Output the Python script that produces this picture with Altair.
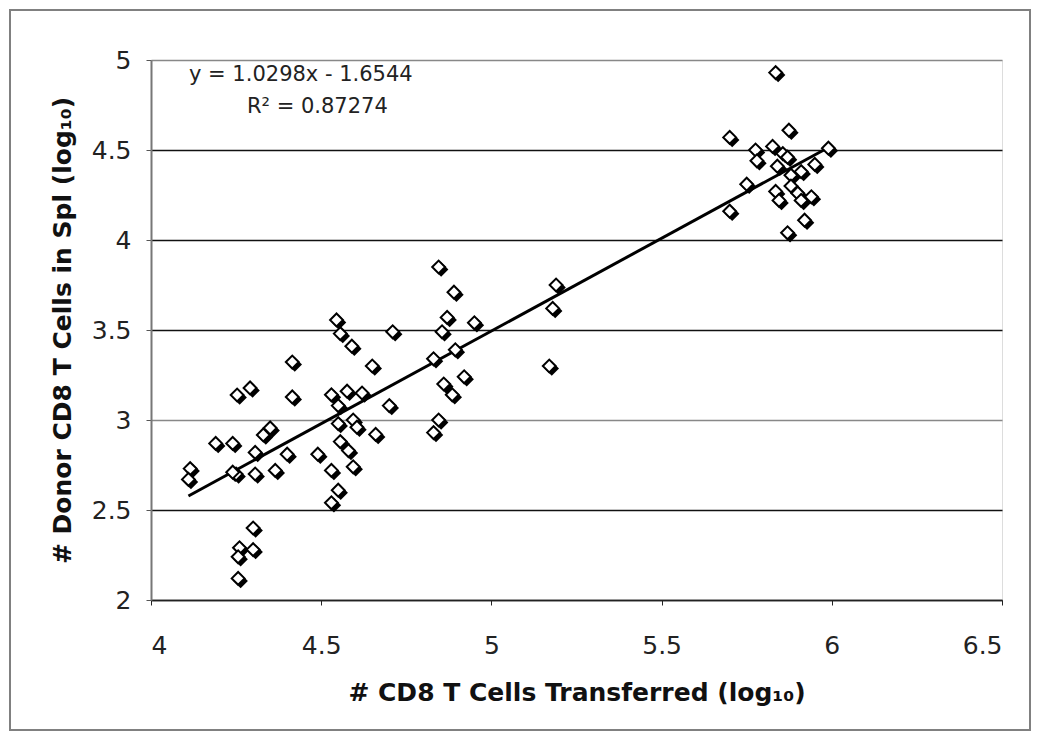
import altair as alt
import pandas as pd

x_vals = [
    4.415, 4.253, 4.291, 4.415, 4.350, 4.330, 4.190, 4.240, 4.306, 4.400, 4.490,
    4.115, 4.110, 4.250, 4.240, 4.306, 4.365, 4.300, 4.260, 4.300, 4.256, 4.256,
    4.845, 4.890, 4.545, 4.870, 4.950, 5.190, 5.180, 4.556, 4.710, 4.855, 4.590,
    4.894, 4.830, 4.650, 5.170, 4.920, 4.860, 4.885, 4.530, 4.576, 4.620, 4.550,
    4.700, 4.594, 4.605, 4.550, 4.660, 4.845, 4.830, 4.556, 4.580, 4.594, 4.530,
    4.550, 4.530,
    5.835, 5.874, 5.700, 5.776, 5.826, 5.856, 5.990, 5.780, 5.870, 5.840, 5.950,
    5.910, 5.880, 5.750, 5.880, 5.900, 5.835, 5.845, 5.910, 5.940, 5.700, 5.920,
    5.870,
]
y_vals = [
    3.322, 3.139, 3.178, 3.128, 2.956, 2.917, 2.870, 2.870, 2.820, 2.810, 2.810,
    2.730, 2.670, 2.700, 2.710, 2.700, 2.720, 2.400, 2.290, 2.280, 2.240, 2.120,
    3.850, 3.710, 3.556, 3.570, 3.540, 3.750, 3.620, 3.480, 3.490, 3.490, 3.410,
    3.390, 3.340, 3.300, 3.300, 3.240, 3.200, 3.140, 3.140, 3.160, 3.150, 3.080,
    3.080, 3.000, 2.960, 2.980, 2.920, 3.000, 2.930, 2.880, 2.830, 2.740, 2.720,
    2.610, 2.540,
    4.930, 4.610, 4.570, 4.500, 4.520, 4.480, 4.510, 4.440, 4.460, 4.410, 4.420,
    4.380, 4.360, 4.310, 4.300, 4.260, 4.270, 4.220, 4.220, 4.240, 4.160, 4.110,
    4.040,
]
slope = 1.0298
intercept = -1.6544
eq_lines = ["y = 1.0298x - 1.6544", "R² = 0.87274"]
x_ticks = [4, 4.5, 5, 5.5, 6, 6.5]
y_ticks = [2, 2.5, 3, 3.5, 4, 4.5, 5]

pts = pd.DataFrame({"x": x_vals, "y": y_vals})
fit_x = [min(x_vals), max(x_vals)]
fit = pd.DataFrame({"x": fit_x, "y": [slope * v + intercept for v in fit_x]})

FONT = "DejaVu Sans"

xs = alt.Scale(domain=[4, 6.5], nice=False, zero=False)
ys = alt.Scale(domain=[2, 5], nice=False, zero=False)

x_axis = alt.Axis(
    title="# CD8 T Cells Transferred (log₁₀)", values=x_ticks, format="~g",
    grid=False, tickSize=5, tickColor="#222", domainColor="#222", domainWidth=1.5,
    labelFontSize=25, labelFont=FONT, labelColor="#222", labelPadding=28,
    titleFontSize=25, titleFont=FONT, titleFontWeight="bold", titleColor="#111",
    titlePadding=22,
)
y_axis = alt.Axis(
    title="# Donor CD8 T Cells in Spl (log₁₀)", values=y_ticks, format="~g",
    grid=True,
    gridColor={"condition": {"test": "datum.value == 3 || datum.value == 5", "value": "#888"}, "value": "#111"},
    gridWidth=1.5, tickSize=5, tickColor="#555",
    domainColor="#777", domainWidth=2,
    labelFontSize=25, labelFont=FONT, labelColor="#222", labelPadding=15,
    titleFontSize=25, titleFont=FONT, titleFontWeight="bold", titleColor="#111",
    titlePadding=16,
)

base_x = alt.X("x:Q", scale=xs, axis=x_axis)
base_y = alt.Y("y:Q", scale=ys, axis=y_axis)

frame = alt.Chart(pd.DataFrame({"a": [0]})).mark_rect(
    fillOpacity=0, stroke="#808080", strokeWidth=2
).encode(
    x=alt.value(-141), x2=alt.value(879), y=alt.value(-50), y2=alt.value(670)
)

shadow = alt.Chart(pts).mark_point(
    shape="diamond", filled=True, color="black", size=210, opacity=1,
    xOffset=2.5, yOffset=2.5,
).encode(x=base_x, y=base_y)

points = alt.Chart(pts).mark_point(
    shape="diamond", filled=True, fill="white", stroke="black", strokeWidth=2,
    size=165, opacity=1, fillOpacity=1,
).encode(x=base_x, y=base_y)

line = alt.Chart(fit).mark_line(color="black", strokeWidth=3).encode(x=base_x, y=base_y)

eq1 = alt.Chart(pd.DataFrame({"t": [eq_lines[0]]})).mark_text(
    align="left", baseline="middle", fontSize=21, font=FONT, color="#222"
).encode(text="t:N", x=alt.value(38), y=alt.value(15))
eq2 = alt.Chart(pd.DataFrame({"t": [eq_lines[1]]})).mark_text(
    align="left", baseline="middle", fontSize=21, font=FONT, color="#222"
).encode(text="t:N", x=alt.value(96), y=alt.value(47))

chart = alt.layer(frame, line, shadow, points, eq1, eq2).properties(
    width=851, height=540,
    autosize=alt.AutoSizeParams(type="none"),
    padding={"left": 143, "top": 52, "right": 30, "bottom": 132},
).configure_view(stroke="#888", strokeWidth=1.5).configure(background="white")

chart.save("out.html", embed_options={"renderer": "svg", "actions": False})
